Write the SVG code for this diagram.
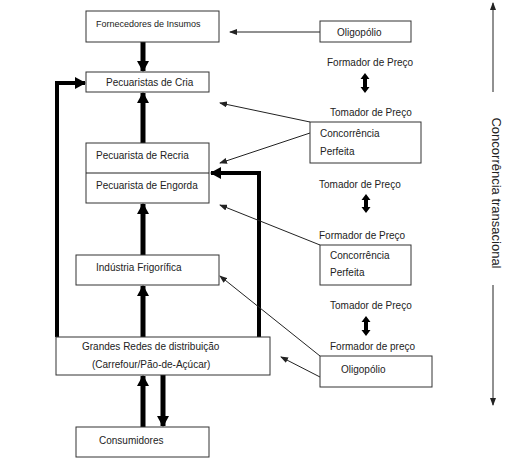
<svg xmlns="http://www.w3.org/2000/svg" width="520" height="471" viewBox="0 0 520 471">
<defs>
<style>
.box{fill:#fff;stroke:#333;stroke-width:1}
.t{font-family:"Liberation Sans",Arial,sans-serif;font-size:10px;fill:#222}
.thin{stroke:#222;stroke-width:1;fill:none}
.thick{stroke:#000;stroke-width:5;fill:none}
.mid{stroke:#000;stroke-width:4;fill:none}
.dbl{fill:#000}
</style>
<marker id="ah" markerUnits="userSpaceOnUse" markerWidth="8" markerHeight="6" refX="7" refY="3" orient="auto"><path d="M0,0 L8,3 L0,6 z" fill="#222"/></marker>
<marker id="bh" markerUnits="userSpaceOnUse" markerWidth="12" markerHeight="12" refX="10" refY="6" orient="auto"><path d="M0,0 L11,6 L0,12 z" fill="#000"/></marker>
</defs>
<rect width="520" height="471" fill="#fff"/>

<g id="connectors">
<line class="thick" x1="143" y1="42" x2="143" y2="71" marker-end="url(#bh)"/>
<line class="thick" x1="143" y1="143" x2="143" y2="93" marker-end="url(#bh)"/>
<line class="thick" x1="143" y1="255" x2="143" y2="204" marker-end="url(#bh)"/>
<line class="thick" x1="143" y1="337" x2="143" y2="286" marker-end="url(#bh)"/>
<line class="thick" x1="143" y1="427" x2="143" y2="376" marker-end="url(#bh)"/>
<line class="thick" x1="163" y1="375" x2="163" y2="426" marker-end="url(#bh)"/>
<polyline class="mid" points="57,337 57,83 85,83" marker-end="url(#bh)"/>
<polyline class="mid" points="259,337 259,173 211,173" marker-end="url(#bh)"/>
<line class="thin" x1="320" y1="32" x2="230" y2="32" marker-end="url(#ah)"/>
<line class="thin" x1="310" y1="122" x2="220" y2="103" marker-end="url(#ah)"/>
<line class="thin" x1="310" y1="133" x2="220" y2="163" marker-end="url(#ah)"/>
<line class="thin" x1="320" y1="245" x2="220" y2="205" marker-end="url(#ah)"/>
<line class="thin" x1="320" y1="356" x2="220" y2="276" marker-end="url(#ah)"/>
<line class="thin" x1="320" y1="377" x2="281" y2="357" marker-end="url(#ah)"/>
<path class="dbl" d="M365,73 L369.5,79 L367,79 L367,87 L369.5,87 L365,93 L360.5,87 L363,87 L363,79 L360.5,79 z"/>
<path class="dbl" d="M366,194 L370.5,200 L368,200 L368,207 L370.5,207 L366,213 L361.5,207 L364,207 L364,200 L361.5,200 z"/>
<path class="dbl" d="M366,316 L370.5,322 L368,322 L368,330 L370.5,330 L366,336 L361.5,330 L364,330 L364,322 L361.5,322 z"/>
<line class="thin" x1="493" y1="92" x2="493" y2="3" marker-end="url(#ah)"/>
<line class="thin" x1="493" y1="285" x2="493" y2="405" marker-end="url(#ah)"/>
</g>

<g id="fornecedores"><rect class="box" x="86" y="11" width="133" height="31"/><text class="t" style="font-size:9px" x="96" y="27">Fornecedores de Insumos</text></g>
<g id="cria"><rect class="box" x="86" y="72" width="123" height="20"/><text class="t" x="106" y="86">Pecuaristas de Cria</text></g>
<g id="recria-engorda"><rect class="box" x="86" y="143" width="123" height="60"/><line class="thin" x1="86" y1="173" x2="209" y2="173"/><text class="t" x="96" y="159">Pecuarista de Recria</text><text class="t" x="96" y="189">Pecuarista de Engorda</text></g>
<g id="industria"><rect class="box" x="76" y="255" width="143" height="30"/><text class="t" x="96" y="271">Indústria Frigorífica</text></g>
<g id="grandes-redes"><rect class="box" x="56" y="337" width="214" height="38"/><text class="t" x="82" y="350">Grandes Redes de distribuição</text><text class="t" x="92" y="368">(Carrefour/Pão-de-Açúcar)</text></g>
<g id="consumidores"><rect class="box" x="76" y="427" width="133" height="30"/><text class="t" x="99" y="444">Consumidores</text></g>

<g id="oligopolio-1"><rect class="box" x="320" y="21" width="91" height="21"/><text class="t" x="337" y="36">Oligopólio</text></g>
<g id="concorrencia-1"><rect class="box" x="310" y="122" width="111" height="41"/><text class="t" x="320" y="137">Concorrência</text><text class="t" x="320" y="155">Perfeita</text></g>
<g id="concorrencia-2"><rect class="box" x="320" y="245" width="91" height="40"/><text class="t" x="330" y="259">Concorrência</text><text class="t" x="330" y="276">Perfeita</text></g>
<g id="oligopolio-2"><rect class="box" x="320" y="356" width="112" height="31"/><text class="t" x="341" y="373">Oligopólio</text></g>

<g id="labels">
<text class="t" x="327" y="66">Formador de Preço</text>
<text class="t" x="330" y="116">Tomador de Preço</text>
<text class="t" x="319" y="188">Tomador de Preço</text>
<text class="t" x="319" y="239">Formador de Preço</text>
<text class="t" x="330" y="309">Tomador de Preço</text>
<text class="t" x="330" y="350">Formador de preço</text>
<text class="t" style="font-size:13px" text-anchor="middle" transform="translate(492,193) rotate(90)">Concorrência transacional</text>
</g>
</svg>
